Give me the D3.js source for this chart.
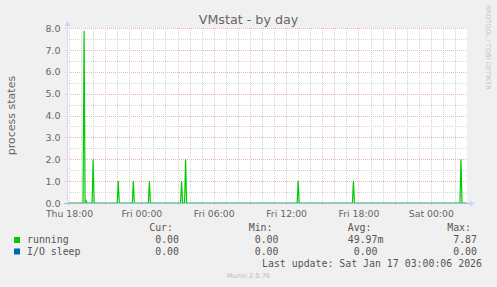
<!DOCTYPE html>
<html>
<head>
<meta charset="utf-8">
<script src="https://cdn.jsdelivr.net/npm/d3@7"></script>
<style>
    body { margin: 0; background: #f0f0f0; }
    svg { display: block; }
    text { fill: #666666; font-family: "DejaVu Sans", sans-serif; }
    .mono { font-family: "DejaVu Sans Mono", monospace; font-size: 9.9px; fill: #555555; }
</style>
</head>
<body>
<div id="container"></div>
<script>
"use strict";

const WIDTH = 497;
const HEIGHT = 287;

const PLOT_LEFT = 67;
const PLOT_RIGHT = 467;
const PLOT_TOP = 28;
const PLOT_BOTTOM = 203;

// graph window (local time), last update Sat Jan 17 03:00:06 2026
const START = new Date(2026, 0, 15, 17, 50);
const END = new Date(2026, 0, 17, 3, 0);

// samples of "running" that were not zero
const RUNNING_TIMES = [
    "2026-01-15 19:15", "2026-01-15 19:25", "2026-01-15 20:00", "2026-01-15 22:05",
    "2026-01-15 23:20", "2026-01-16 00:40", "2026-01-16 03:20", "2026-01-16 03:40",
    "2026-01-16 13:00", "2026-01-16 17:35", "2026-01-17 02:30"
];
const RUNNING_VALUES = [7.87, 0.1, 2.0, 1.0, 1.0, 1.0, 1.0, 2.0, 1.0, 1.0, 2.0];

const Y_TICKS = [0, 1, 2, 3, 4, 5, 6, 7, 8];

const LEGEND_NAMES = ["running", "I/O sleep"];
const LEGEND_COLORS = ["#00cc00", "#0066b3"];
const LEGEND_HEADERS = ["Cur:", "Min:", "Avg:", "Max:"];
const LEGEND_VALUES = [
    [["0.00", ""], ["0.00", ""], ["49.97", "m"], ["7.87", ""]],
    [["0.00", ""], ["0.00", ""], ["0.00", ""], ["0.00", ""]]
];
const LAST_UPDATE = "Last update: Sat Jan 17 03:00:06 2026";

const TIME_PARSE = d3.timeParse("%Y-%m-%d %H:%M");
const FIVE_MIN = 5 * 60 * 1000;

const SVG = d3.select("div#container").append("svg")
    .attr("width", WIDTH)
    .attr("height", HEIGHT);

const xScale = d3.scaleTime()
    .domain([START, END])
    .range([PLOT_LEFT, PLOT_RIGHT]);

const yScale = d3.scaleLinear()
    .domain([0, 8])
    .range([PLOT_BOTTOM, PLOT_TOP]);

drawCanvas();
drawGrid();
drawLine();
drawAxes();
drawTexts();
drawLegend();

function drawCanvas() {
    SVG.append("rect")
        .attr("width", WIDTH)
        .attr("height", HEIGHT)
        .attr("fill", "#f0f0f0");

    SVG.append("rect")
        .attr("x", PLOT_LEFT)
        .attr("y", PLOT_TOP)
        .attr("width", PLOT_RIGHT - PLOT_LEFT)
        .attr("height", PLOT_BOTTOM - PLOT_TOP)
        .attr("fill", "#ffffff");
}

function drawGrid() {
    const grid = SVG.append("g").attr("shape-rendering", "crispEdges");

    const hours = d3.timeHour.range(START, END);
    const minorX = hours.filter(d => d.getHours() % 3 !== 0);
    const majorX = hours.filter(d => d.getHours() % 3 === 0);

    const minorY = d3.range(0.5, 8, 1);

    grid.selectAll("line.minorx").data(minorX).join("line")
        .attr("x1", d => Math.round(xScale(d)) + 0.5)
        .attr("x2", d => Math.round(xScale(d)) + 0.5)
        .attr("y1", PLOT_TOP)
        .attr("y2", PLOT_BOTTOM)
        .attr("stroke", "#d4d4d4")
        .attr("stroke-dasharray", "1,1");

    grid.selectAll("line.minory").data(minorY).join("line")
        .attr("x1", PLOT_LEFT)
        .attr("x2", PLOT_RIGHT)
        .attr("y1", d => Math.round(yScale(d)) + 0.5)
        .attr("y2", d => Math.round(yScale(d)) + 0.5)
        .attr("stroke", "#d4d4d4")
        .attr("stroke-dasharray", "1,1");

    grid.selectAll("line.majorx").data(majorX).join("line")
        .attr("x1", d => Math.round(xScale(d)) + 0.5)
        .attr("x2", d => Math.round(xScale(d)) + 0.5)
        .attr("y1", PLOT_TOP)
        .attr("y2", PLOT_BOTTOM + 2)
        .attr("stroke", "#efc4c4")
        .attr("stroke-dasharray", "1,1");

    grid.selectAll("line.majory").data(Y_TICKS).join("line")
        .attr("x1", PLOT_LEFT - 2)
        .attr("x2", PLOT_RIGHT)
        .attr("y1", d => Math.round(yScale(d)) + 0.5)
        .attr("y2", d => Math.round(yScale(d)) + 0.5)
        .attr("stroke", "#ebb4b4")
        .attr("stroke-dasharray", "1,1");
}

function runningPoints() {
    let points = [{ date: START, value: 0 }];
    RUNNING_TIMES.forEach(function (t, i) {
        const date = TIME_PARSE(t);
        points.push({ date: new Date(date.getTime() - FIVE_MIN), value: 0 });
        points.push({ date: date, value: RUNNING_VALUES[i] });
        points.push({ date: new Date(date.getTime() + FIVE_MIN), value: 0 });
    });
    points.push({ date: END, value: 0 });
    return points.sort((a, b) => a.date - b.date);
}

function drawLine() {
    const line = d3.line()
        .x(d => xScale(d.date))
        .y(d => yScale(d.value));

    SVG.append("path")
        .attr("d", line(runningPoints()))
        .attr("fill", "none")
        .attr("stroke", LEGEND_COLORS[0])
        .attr("stroke-width", 1.2);
}

function drawAxes() {
    const axisColor = "#cfd6f8";

    SVG.append("line")
        .attr("x1", PLOT_LEFT - 3)
        .attr("x2", PLOT_RIGHT + 4)
        .attr("y1", PLOT_BOTTOM + 0.5)
        .attr("y2", PLOT_BOTTOM + 0.5)
        .attr("stroke", "#a8b4ec");

    SVG.append("line")
        .attr("x1", PLOT_LEFT + 0.5)
        .attr("x2", PLOT_LEFT + 0.5)
        .attr("y1", PLOT_BOTTOM + 3)
        .attr("y2", PLOT_TOP - 4)
        .attr("stroke", axisColor);

    SVG.append("path")
        .attr("d", `M${PLOT_LEFT + 0.5},${PLOT_TOP - 7} l3,5 l-6,0 z`)
        .attr("fill", axisColor);

    SVG.append("path")
        .attr("d", `M${PLOT_RIGHT + 8},${PLOT_BOTTOM + 0.5} l-5,-3 l0,6 z`)
        .attr("fill", axisColor);

    const xaxis = d3.axisBottom(xScale)
        .ticks(d3.timeHour.every(6))
        .tickFormat(d3.timeFormat("%a %H:%M"))
        .tickSize(0)
        .tickPadding(0);

    const gx = SVG.append("g")
        .attr("transform", `translate(0, ${PLOT_BOTTOM})`)
        .call(xaxis);
    gx.select(".domain").remove();
    gx.selectAll("text")
        .attr("y", 13.5)
        .attr("dy", null)
        .attr("fill", "#666666")
        .style("font-family", "DejaVu Sans")
        .style("font-size", "9.3px");

    const yaxis = d3.axisLeft(yScale)
        .tickValues(Y_TICKS)
        .tickFormat(d3.format(".1f"))
        .tickSize(0)
        .tickPadding(0);

    const gy = SVG.append("g")
        .attr("transform", `translate(${PLOT_LEFT - 6.5}, 0)`)
        .call(yaxis);
    gy.select(".domain").remove();
    gy.selectAll("text")
        .attr("dy", "0.34em")
        .attr("fill", "#666666")
        .style("font-family", "DejaVu Sans")
        .style("font-size", "9.5px");
}

function drawTexts() {
    SVG.append("text")
        .attr("x", 248.5)
        .attr("y", 23.5)
        .attr("text-anchor", "middle")
        .style("font-size", "12.7px")
        .text("VMstat - by day");

    SVG.append("text")
        .attr("transform", "translate(15, 115.5) rotate(-90)")
        .attr("text-anchor", "middle")
        .style("font-size", "11px")
        .text("process states");

    SVG.append("text")
        .attr("transform", "translate(485.5, 5) rotate(90)")
        .style("font-size", "6.6px")
        .style("fill", "#c4c4c4")
        .text("RRDTOOL / TOBI OETIKER");

    SVG.append("text")
        .attr("x", 248.5)
        .attr("y", 278)
        .attr("text-anchor", "middle")
        .style("font-size", "6.6px")
        .style("fill", "#bbbbbb")
        .text("Munin 2.0.76");
}

function drawLegend() {
    const valueEnds = [179, 278.5, 377.5, 477];
    const rowY = [243, 254.5];

    const legend = SVG.append("g");

    legend.selectAll("text.head").data(LEGEND_HEADERS).join("text")
        .attr("class", "mono")
        .attr("x", (d, i) => valueEnds[i] - 6)
        .attr("y", 231)
        .attr("text-anchor", "end")
        .text(d => d);

    LEGEND_NAMES.forEach(function (name, r) {
        legend.append("rect")
            .attr("x", 14)
            .attr("y", rowY[r] - 6)
            .attr("width", 6)
            .attr("height", 6)
            .attr("fill", LEGEND_COLORS[r]);

        legend.append("text")
            .attr("class", "mono")
            .attr("x", 27)
            .attr("y", rowY[r])
            .text(name);

        LEGEND_VALUES[r].forEach(function (v, c) {
            legend.append("text")
                .attr("class", "mono")
                .attr("x", valueEnds[c])
                .attr("y", rowY[r])
                .attr("text-anchor", "end")
                .text(v[0]);
            if (v[1]) {
                legend.append("text")
                    .attr("class", "mono")
                    .attr("x", valueEnds[c])
                    .attr("y", rowY[r])
                    .text(v[1]);
            }
        });
    });

    legend.append("text")
        .attr("class", "mono")
        .attr("x", 482)
        .attr("y", 266.5)
        .attr("text-anchor", "end")
        .text(LAST_UPDATE);
}
</script>
</body>
</html>
